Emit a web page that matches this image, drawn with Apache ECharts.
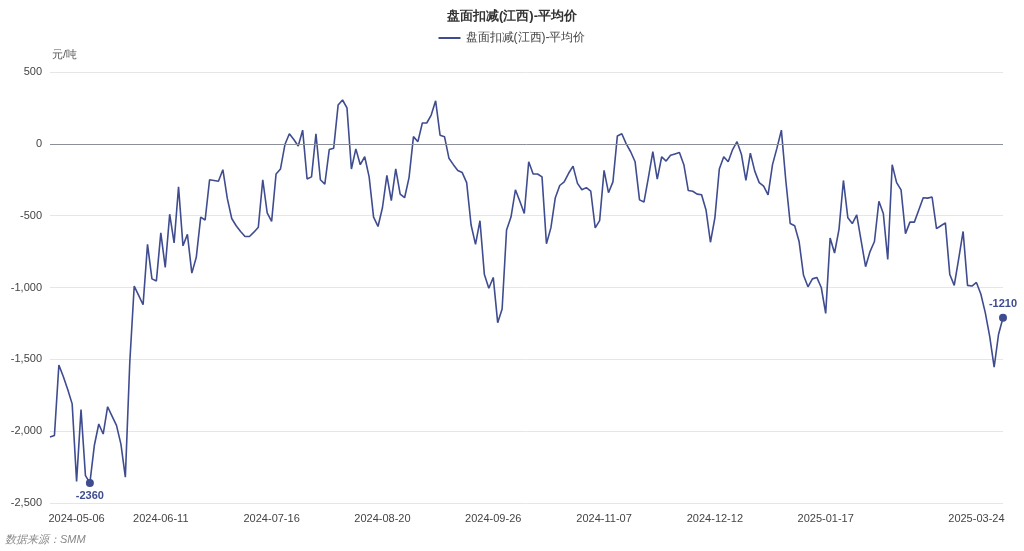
<!DOCTYPE html>
<html><head><meta charset="utf-8">
<script src="https://cdn.jsdelivr.net/npm/echarts@6/dist/echarts.min.js"></script>
<style>html,body{margin:0;padding:0;background:#fff}#c{width:1024px;height:551px}</style>
</head><body><div id="c"></div>
<script>
const values = [
-2040,-2030,-1540,-1620,-1710,-1810,-2350,-1850,-2310,-2360,-2100,-1950,-2020,-1830,-1895,-1960,-2090,-2320,-1520,-990,-1055,-1120,-700,-940,-955,-620,-860,-490,-690,-300,-710,-630,-900,-790,-510,-530,-250,-255,-260,-180,-380,-520,-570,-610,
-645,-645,-615,-580,-250,-480,-540,-210,-175,-5,70,30,-15,95,-245,-230,70,-250,-280,-40,-30,270,305,250,-175,-35,-145,-90,-230,-510,-575,-445,-220,-395,-175,-350,-375,-235,50,15,145,145,200,300,
60,50,-100,-145,-185,-200,-270,-565,-700,-535,-910,-1005,-930,-1245,-1150,-600,-510,-320,-400,-485,-125,-210,-210,-230,-695,-585,-375,-290,-265,-205,-155,-275,-320,-305,-330,-585,-535,-185,-340,-265,55,70,0,-55,
-125,-390,-405,-235,-55,-245,-90,-120,-80,-70,-60,-145,-325,-330,-350,-355,-460,-685,-515,-175,-90,-125,-40,15,-75,-255,-65,-190,-270,-295,-355,-145,-30,95,-255,-555,-570,-680,-915,-995,-940,-930,-1000,
-1180,-655,-760,-595,-255,-515,-555,-495,-675,-855,-750,-680,-400,-485,-805,-145,-270,-320,-625,-545,-545,-460,-375,-378,-370,-590,-570,-550,-910,-985,-800,-610,-985,-990,-965,-1045,-1175,-1340,-1555,-1325,-1210
];
const anchorIdx = [0, 6, 25, 50, 75, 100, 125, 150, 175, 209, 215];
const anchorDates = ['2024-04-26','2024-05-06','2024-06-11','2024-07-16','2024-08-20','2024-09-26','2024-11-07','2024-12-12','2025-01-17','2025-03-24','2025-04-01'];
const shownIdx = [6, 25, 50, 75, 100, 125, 150, 175, 209];

const dates = [];
for (let i = 0; i < values.length; i++) {
  let k = 0;
  while (k < anchorIdx.length - 2 && i > anchorIdx[k + 1]) k++;
  const a = new Date(anchorDates[k] + 'T00:00:00Z'), b = new Date(anchorDates[k + 1] + 'T00:00:00Z');
  const t = (i - anchorIdx[k]) / (anchorIdx[k + 1] - anchorIdx[k]);
  const d = new Date(a.getTime() + Math.round(t * (b - a) / 86400000) * 86400000);
  dates.push(d.toISOString().slice(0, 10));
}
const minIdx = values.indexOf(Math.min(...values));
const lastIdx = values.length - 1;
const color = '#3f4c8f';

const chart = echarts.init(document.getElementById('c'));
chart.setOption({
  animation: false,
  title: { text: '盘面扣减(江西)-平均价', left: 'center', top: 5,
    textStyle: { fontSize: 13, fontWeight: 'bold', color: '#333' } },
  legend: { top: 27, itemWidth: 22, itemHeight: 2, icon: 'rect',
    textStyle: { fontSize: 12, color: '#444' }, data: ['盘面扣减(江西)-平均价'] },
  grid: { left: 50, right: 21, top: 72, bottom: 48 },
  graphic: [
    { type: 'text', left: 52, top: 49, style: { text: '元/吨', fontSize: 11, fill: '#555' } },
    { type: 'text', left: 5, top: 534, style: { text: '数据来源：SMM', fontSize: 11, fill: '#888', fontStyle: 'italic' } }
  ],
  xAxis: {
    type: 'category', data: dates, boundaryGap: false,
    axisLine: { show: false, onZero: false }, axisTick: { show: false },
    axisLabel: { color: '#444', fontSize: 11, margin: 10,
      interval: (i) => shownIdx.indexOf(i) >= 0 }
  },
  yAxis: {
    type: 'value', min: -2500, max: 500, interval: 500,
    axisLabel: { color: '#444', fontSize: 11,
      formatter: v => v.toLocaleString('en-US') },
    splitLine: { lineStyle: { color: '#e6e6e6' } },
    axisLine: { show: false }, axisTick: { show: false }
  },
  series: [{
    name: '盘面扣减(江西)-平均价', type: 'line', data: values,
    symbol: 'none', lineStyle: { color: color, width: 1.6 }, itemStyle: { color: color },
    markLine: { silent: true, symbol: 'none', label: { show: false },
      lineStyle: { color: '#8a8f99', type: 'solid', width: 1 }, data: [{ yAxis: 0 }] },
    markPoint: {
      symbol: 'circle', symbolSize: 8, itemStyle: { color: color },
      label: { color: color, fontWeight: 'bold', fontSize: 11 },
      data: [
        { coord: [minIdx, values[minIdx]], value: values[minIdx], label: { position: 'bottom', distance: 4 } },
        { coord: [lastIdx, values[lastIdx]], value: values[lastIdx], label: { position: 'top', distance: 4 } }
      ]
    }
  }]
});
</script></body></html>
